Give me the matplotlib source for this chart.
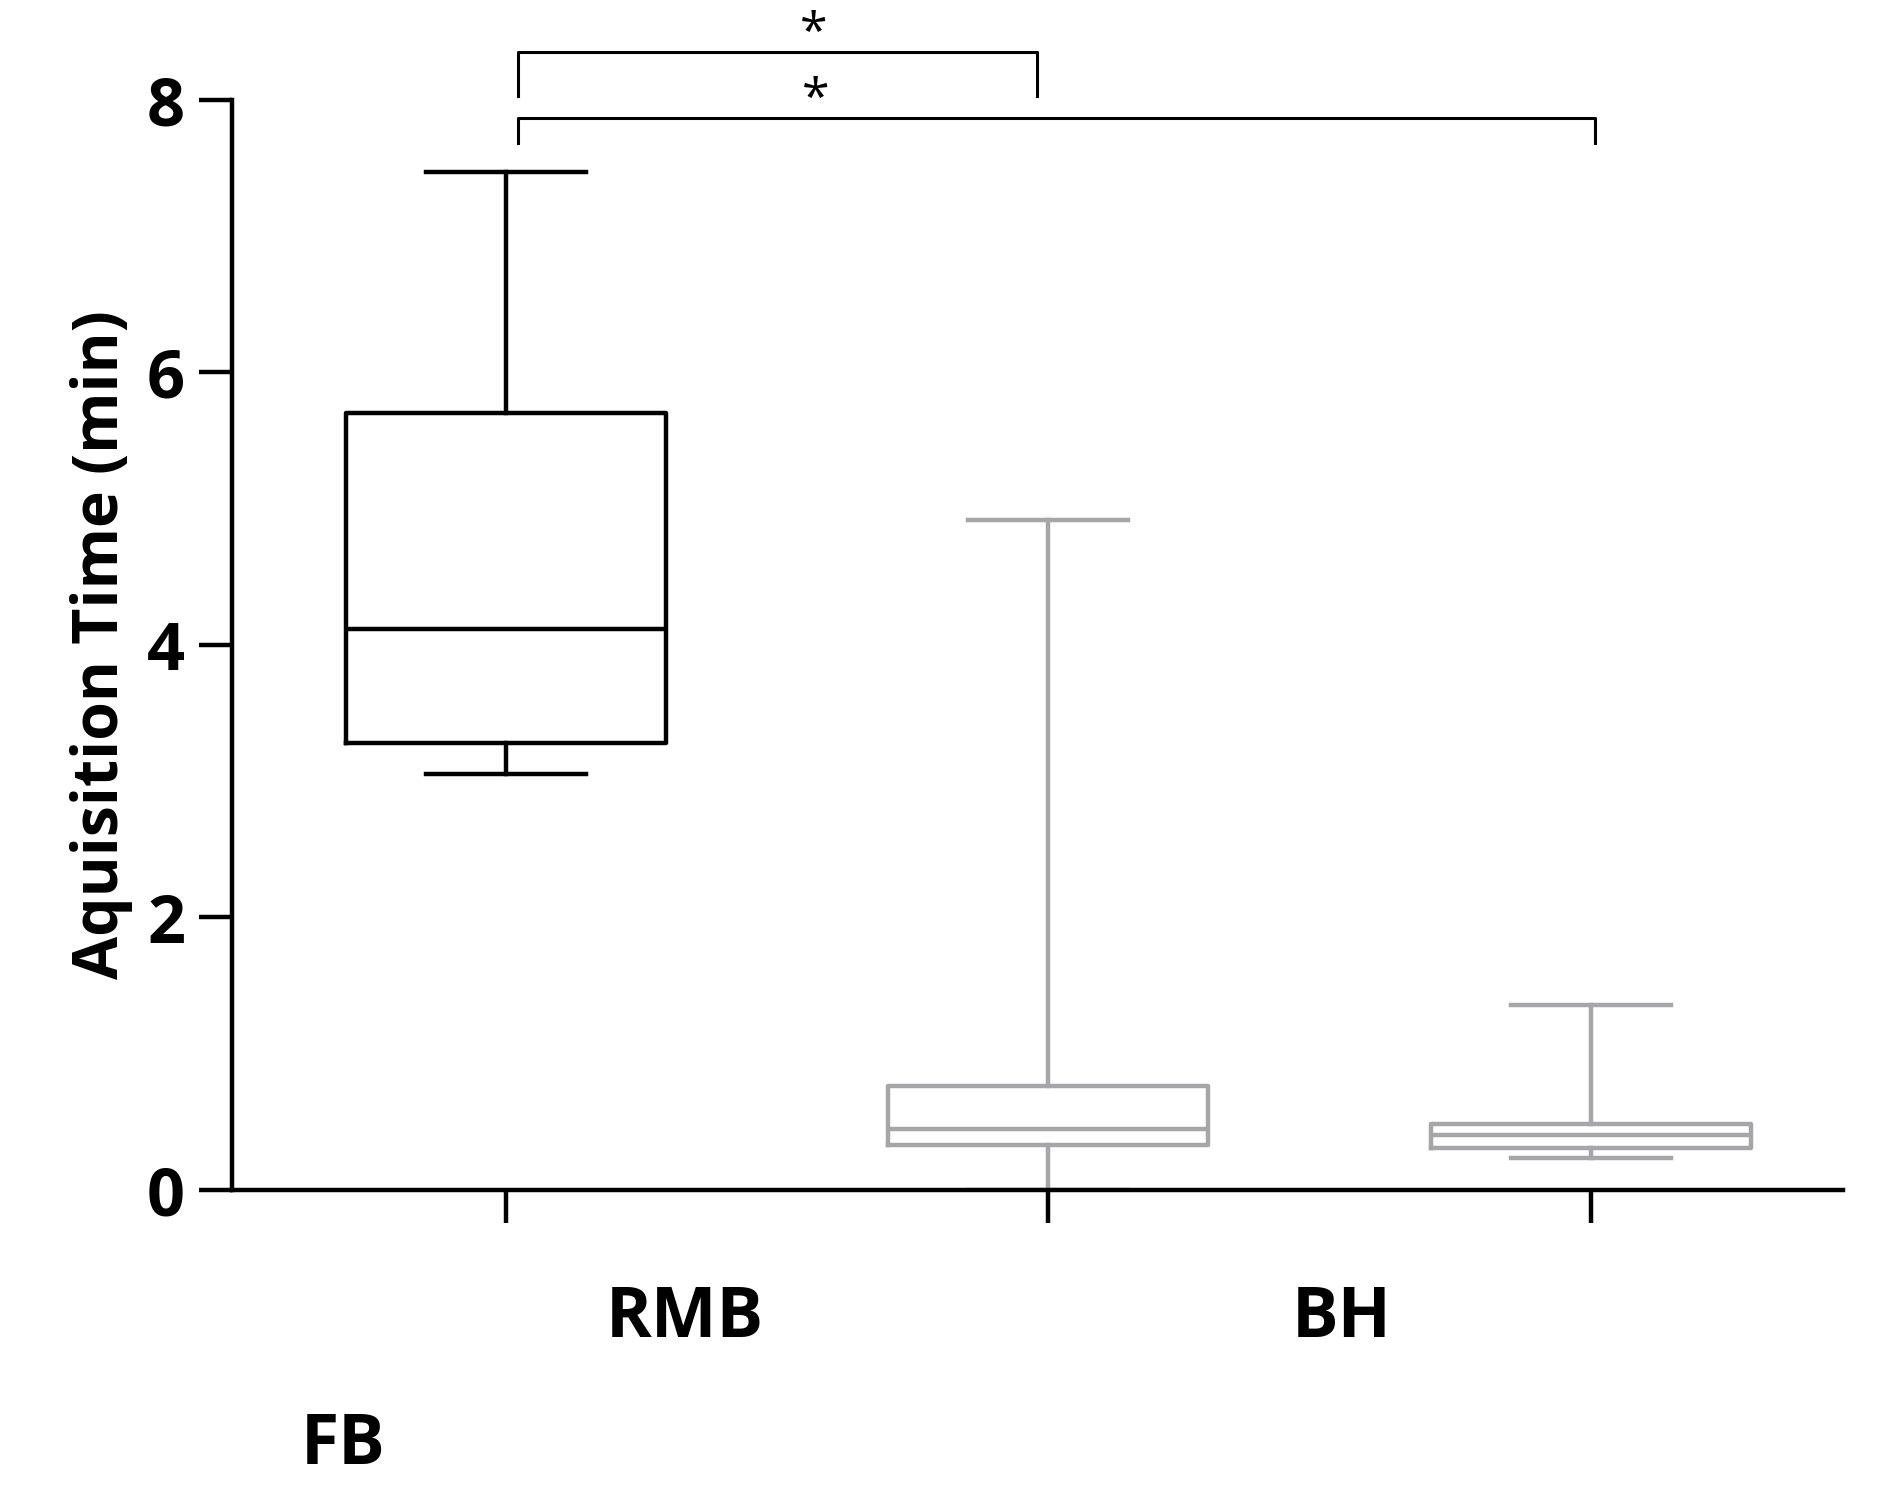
import matplotlib
matplotlib.use('Agg')
import matplotlib.pyplot as plt

positions = [1, 2, 3]
colors = ['black', '#a6a6a8', '#a6a6a8']
# whislo, q1, med, q3, whishi
stats_vals = [
    [3.05, 3.28, 4.12, 5.70, 7.47],
    [0.00, 0.33, 0.45, 0.76, 4.92],
    [0.23, 0.31, 0.40, 0.48, 1.36],
]
group_labels = ['RMB', 'BH', 'FB']

plt.rcParams['font.family'] = ['Open Sans', 'DejaVu Sans']
fig = plt.figure(figsize=(18.88, 14.91), dpi=100)
ax = fig.add_axes([0.123, 0.202, 0.853, 0.731])

for pos, col, s in zip(positions, colors, stats_vals):
    st = [{'whislo': s[0], 'q1': s[1], 'med': s[2], 'q3': s[3], 'whishi': s[4]}]
    lp = dict(color=col, linewidth=3.2)
    ax.bxp(st, positions=[pos], widths=0.59, showfliers=False,
           boxprops=lp, whiskerprops=lp, capprops=lp, medianprops=lp,
           manage_ticks=False)

ax.set_xlim(0.496, 3.464)
ax.set_ylim(0, 8)
ax.set_yticks([0, 2, 4, 6, 8])
ax.set_xticks(positions)
ax.set_xticklabels([])
for sp in ['top', 'right']:
    ax.spines[sp].set_visible(False)
for sp in ['left', 'bottom']:
    ax.spines[sp].set_linewidth(3.2)
ax.tick_params(axis='both', width=3.2, length=24, direction='out')
ax.tick_params(axis='y', labelsize=48, pad=10)
for t in ax.get_yticklabels():
    t.set_fontweight('bold')
ax.set_ylabel('Aquisition Time (min)', fontsize=45, fontweight='bold', labelpad=10)

# group labels
ax.text(1.33, -0.95, group_labels[0], fontsize=50, fontweight='bold', ha='center', va='center')
ax.text(2.54, -0.95, group_labels[1], fontsize=50, fontweight='bold', ha='center', va='center')
ax.text(0.70, -1.88, group_labels[2], fontsize=50, fontweight='bold', ha='center', va='center')

# significance brackets
def bracket(x1, x2, y, tip):
    ax.plot([x1, x1, x2, x2], [y - tip, y, y, y - tip], color='black', lw=2.2, clip_on=False)
    ax.text(x1 + (x2 - x1) * (0.57 if x2 < 2.5 else 0.277), y - 0.06, '*', fontsize=36,
            ha='center', va='bottom', clip_on=False)

bracket(1.022, 1.98, 8.35, 0.32)
bracket(1.022, 3.007, 7.87, 0.19)

fig.savefig('out.png', dpi=100)
